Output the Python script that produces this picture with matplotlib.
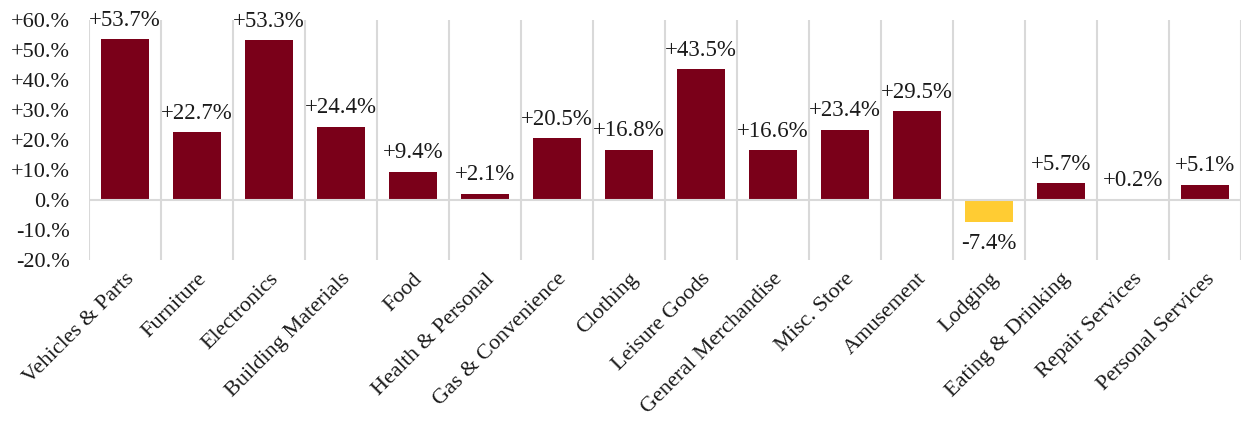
import matplotlib.pyplot as plt
import matplotlib.transforms as mtransforms
import numpy as np

# growth by business category
categories = ['Vehicles & Parts', 'Furniture', 'Electronics', 'Building Materials',
              'Food', 'Health & Personal', 'Gas & Convenience', 'Clothing',
              'Leisure Goods', 'General Merchandise', 'Misc. Store', 'Amusement',
              'Lodging', 'Eating & Drinking', 'Repair Services', 'Personal Services']
growth = [53.7, 22.7, 53.3, 24.4, 9.4, 2.1, 20.5, 16.8,
          43.5, 16.6, 23.4, 29.5, -7.4, 5.7, 0.2, 5.1]
yticks = [-20, -10, 0, 10, 20, 30, 40, 50, 60]

MAROON = '#7A0019'
GOLD = '#FFCC33'
GRID = '#D9D9D9'
TXT = '#1a1a1a'

plt.rcParams['font.family'] = ['Liberation Serif', 'DejaVu Serif']

fig = plt.figure(figsize=(12.41, 4.23), dpi=100)
ax = fig.add_axes([89 / 1241, 1 - 260 / 423, 1152 / 1241, 240 / 423])

x = np.arange(len(categories))
colors = [MAROON if v >= 0 else GOLD for v in growth]
ax.bar(x, growth, width=0.67, color=colors, zorder=3)

# vertical separators between categories, plus the zero line on top of the bars
for b in np.arange(len(categories) + 1) - 0.5:
    ax.axvline(b, color=GRID, lw=1.5, zorder=1)
ax.axhline(0, color=GRID, lw=1.5, zorder=3.5)

for xi, v in zip(x, growth):
    if v >= 0:
        ax.annotate('+%.1f%%' % v, (xi, v), xytext=(0, 6), textcoords='offset points',
                    ha='center', va='bottom', fontsize=16.5, color=TXT, zorder=4)
    else:
        ax.annotate('%.1f%%' % v, (xi, v), xytext=(0, -8), textcoords='offset points',
                    ha='center', va='top', fontsize=16.5, color=TXT, zorder=4)

ax.set_xlim(-0.5, len(categories) - 0.5)
ax.set_ylim(-20, 60)
ax.set_yticks(yticks)
ax.set_yticklabels([('+%d.%%' % t) if t > 0 else ('%d.%%' % t if t < 0 else '0.%')
                    for t in yticks], fontsize=16, color=TXT)
ax.set_xticks(x)
ax.set_xticklabels(categories, rotation=45, ha='right', rotation_mode='anchor',
                   fontsize=16, color=TXT)
# nudge the slanted labels a little left so they end under the bar
shift = mtransforms.ScaledTranslation(-5 / 100, 0, fig.dpi_scale_trans)
for lbl in ax.get_xticklabels():
    lbl.set_transform(lbl.get_transform() + shift)
ax.tick_params(axis='both', length=0)
ax.tick_params(axis='y', pad=14)
ax.tick_params(axis='x', pad=7)
for s in ax.spines.values():
    s.set_visible(False)

fig.savefig('out.png', dpi=100)
